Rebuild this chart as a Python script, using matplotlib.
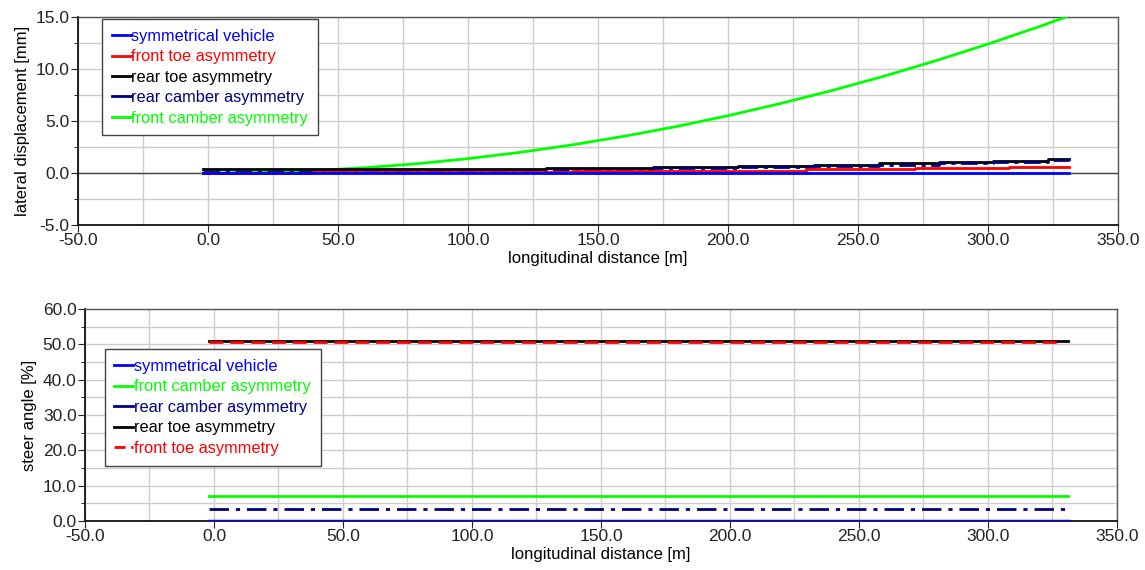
import numpy as np
import matplotlib
matplotlib.use("Agg")
import matplotlib.pyplot as plt
from matplotlib.lines import Line2D
from matplotlib.ticker import MultipleLocator, FormatStrFormatter

plt.rcParams['font.family'] = ['Liberation Sans', 'DejaVu Sans']

# --- top chart: lateral displacement [mm] ---
x_green = [-2, 20, 40, 60, 80, 100, 120, 140, 160, 180, 200, 220, 240, 260, 280, 300, 320, 330]
y_green = [0.0, 0.05, 0.22, 0.5, 0.88, 1.38, 1.98, 2.7, 3.53, 4.46, 5.51, 6.67, 7.93, 9.31, 10.8, 12.4, 14.1, 15.0]

x_black = [-2, 130, 171, 204, 233, 258, 281, 302, 323, 331]
y_black = [0.35, 0.47, 0.58, 0.68, 0.8, 0.92, 1.03, 1.15, 1.35, 1.35]

x_navy = [-2, 60, 130, 171, 204, 233, 258, 281, 302, 323, 331]
y_navy = [0.08, 0.15, 0.3, 0.45, 0.56, 0.68, 0.8, 0.92, 1.03, 1.22, 1.22]

x_red = [-2, 40, 90, 140, 185, 230, 272, 308, 331]
y_red = [0.0, 0.05, 0.1, 0.15, 0.22, 0.35, 0.47, 0.58, 0.58]

x_blue = [-2, 331]
y_blue = [0.0, 0.0]

# --- bottom chart: steer angle [%] ---
x_flat = [-2, 331]
steer_black = [51.0, 51.0]
steer_red = [50.6, 50.6]
steer_green = [7.2, 7.2]
steer_navy = [3.5, 3.5]
steer_blue = [0.1, 0.1]

BLUE = '#0000ff'
RED = '#ff0000'
BLACK = '#000000'
NAVY = '#000080'
GREEN = '#00ff00'

fig = plt.figure(figsize=(11.45, 5.7), dpi=100)
ax1 = fig.add_axes([0.0681, 0.6053, 0.9083, 0.3649])
ax2 = fig.add_axes([0.0742, 0.086, 0.9013, 0.372])


def style_axes(ax, ymin, ymax, ymaj, ymin_step, ylabel):
    ax.set_xlim(-50, 350)
    ax.set_ylim(ymin, ymax)
    ax.xaxis.set_major_locator(MultipleLocator(50))
    ax.xaxis.set_minor_locator(MultipleLocator(25))
    ax.yaxis.set_major_locator(MultipleLocator(ymaj))
    ax.yaxis.set_minor_locator(MultipleLocator(ymin_step))
    ax.xaxis.set_major_formatter(FormatStrFormatter('%.1f'))
    ax.yaxis.set_major_formatter(FormatStrFormatter('%.1f'))
    ax.grid(True, which='both', color='#cccccc', linewidth=1.0)
    ax.set_axisbelow(True)
    ax.tick_params(axis='both', which='major', labelsize=12.5, length=5, pad=1, colors='#222222')
    ax.tick_params(axis='x', which='minor', length=0)
    ax.tick_params(axis='y', which='minor', length=3)
    ax.set_xlabel('longitudinal distance [m]', fontsize=12, labelpad=2)
    ax.set_ylabel(ylabel, fontsize=12, labelpad=4)
    for side in ['left', 'bottom']:
        ax.spines[side].set_color('#111111')
        ax.spines[side].set_linewidth(1.3)
    for side in ['top', 'right']:
        ax.spines[side].set_color('#555555')
        ax.spines[side].set_linewidth(1.0)


style_axes(ax1, -5, 15, 5, 2.5, 'lateral displacement [mm]')
style_axes(ax2, 0, 60, 10, 5, 'steer angle [%]')

# top plot
ax1.axhline(0, color='#444444', linewidth=1.0, zorder=1)
ax1.plot(x_green, y_green, color=GREEN, linewidth=2, zorder=3)
ax1.plot(x_black, y_black, color=BLACK, linewidth=2, drawstyle='steps-post', zorder=3)
ax1.plot(x_navy, y_navy, color=NAVY, linewidth=2, linestyle=(0, (6, 2, 1.5, 2)), drawstyle='steps-post', zorder=4)
ax1.plot(x_red, y_red, color=RED, linewidth=2, drawstyle='steps-post', zorder=4)
ax1.plot(x_blue, y_blue, color=BLUE, linewidth=2, zorder=5)

# bottom plot
ax2.plot(x_flat, steer_black, color=BLACK, linewidth=2, zorder=3)
ax2.plot([x_flat[0], 327], steer_red, color=RED, linewidth=2, linestyle=(0, (5, 2.5)), zorder=4)
ax2.plot(x_flat, steer_green, color=GREEN, linewidth=2, zorder=3)
ax2.plot(x_flat, steer_navy, color=NAVY, linewidth=2, linestyle=(0, (7, 2.5, 1.5, 2.5)), zorder=3)
ax2.plot(x_flat, steer_blue, color=BLUE, linewidth=2.5, zorder=3)


def make_legend(ax, entries, anchor):
    handles = [Line2D([], [], color=c, linewidth=2, linestyle=ls) for _, c, ls in entries]
    labels = [n for n, _, _ in entries]
    leg = ax.legend(handles, labels, loc='upper left', bbox_to_anchor=anchor,
                    fontsize=11.8, handlelength=1.15, handletextpad=0.05,
                    labelspacing=0.33, borderpad=0.6, borderaxespad=0,
                    fancybox=False, framealpha=1, edgecolor='#444444')
    leg.get_frame().set_linewidth(1.0)
    for txt, (_, c, _) in zip(leg.get_texts(), entries):
        txt.set_color(c)
    leg.set_zorder(10)
    return leg


top_entries = [
    ('symmetrical vehicle', BLUE, '-'),
    ('front toe asymmetry', RED, '-'),
    ('rear toe asymmetry', BLACK, '-'),
    ('rear camber asymmetry', NAVY, '-'),
    ('front camber asymmetry', GREEN, '-'),
]
bottom_entries = [
    ('symmetrical vehicle', BLUE, '-'),
    ('front camber asymmetry', GREEN, '-'),
    ('rear camber asymmetry', NAVY, '-'),
    ('rear toe asymmetry', BLACK, '-'),
    ('front toe asymmetry', RED, (0, (4, 2))),
]

make_legend(ax1, top_entries, (0.023, 0.99))
make_legend(ax2, bottom_entries, (0.019, 0.81))

fig.savefig('out.png', dpi=100)
